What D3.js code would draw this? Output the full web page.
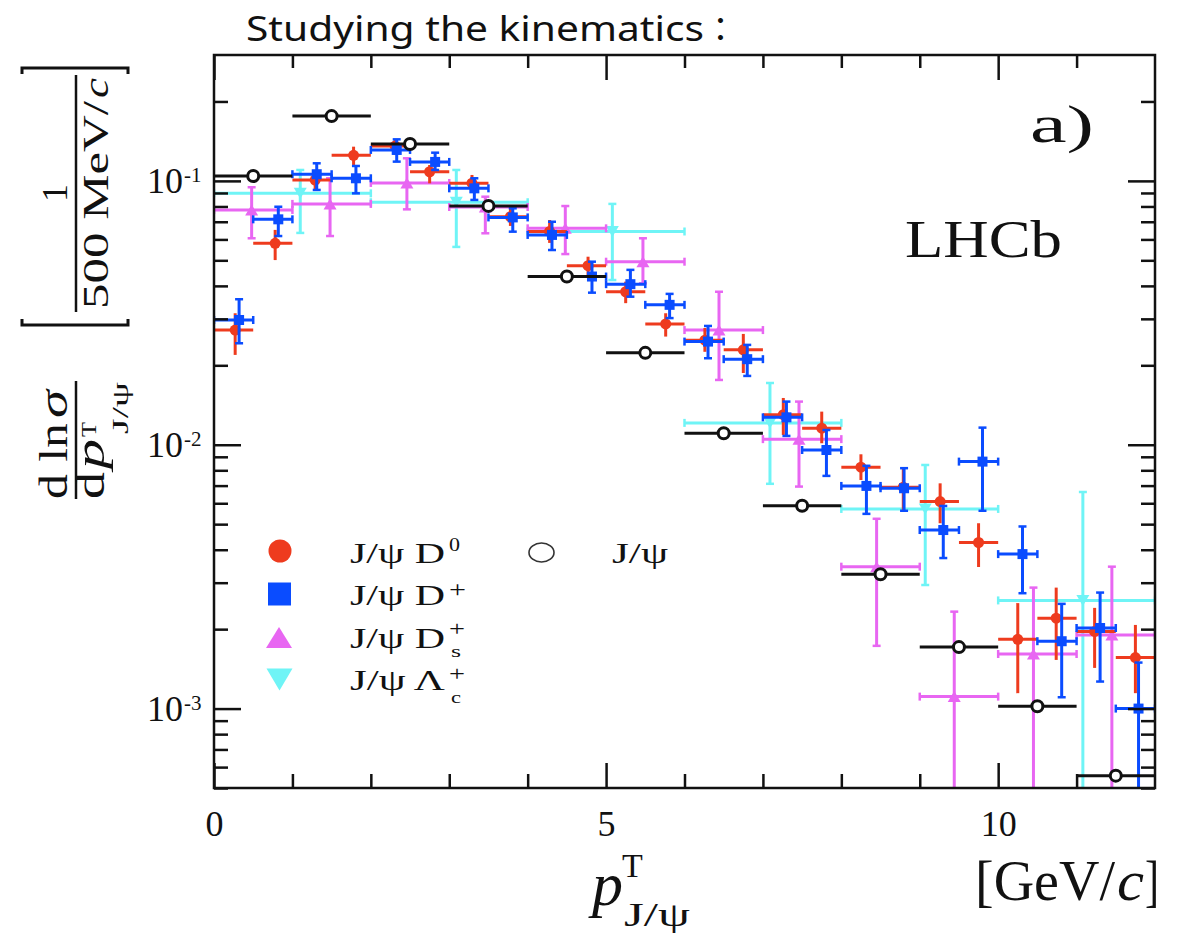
<!DOCTYPE html>
<html>
<head>
<meta charset="utf-8">
<script src="https://cdn.jsdelivr.net/npm/d3@7"></script>
<style>
  body { margin: 0; background: #fff; }
  svg { display: block; }
</style>
</head>
<body>
<svg id="chart" width="1180" height="940"></svg>
<script>
// ---- bin edges (GeV/c) ----
const halfEdges = [0,0.5,1,1.5,2,2.5,3,3.5,4,4.5,5,5.5,6,6.5,7,7.5,8,8.5,9,9.5,10,10.5,11,11.5,12];
const unitEdges = [0,1,2,3,4,5,6,7,8,9,10,11,12];
const twoEdges  = [0,2,4,6,8,10,12];

// ---- J/psi D0 ----
const d0X  = [0.27,0.78,1.29,1.78,2.31,2.75,3.29,3.78,4.28,4.77,5.25,5.76,6.26,6.75,7.26,7.75,8.25,8.79,9.26,9.75,10.25,10.74,11.23,11.75];
const d0Y  = [0.0272,0.058,0.1007,0.125,0.1355,0.1083,0.098,0.0732,0.0643,0.0477,0.038,0.0287,0.0249,0.0229,0.013,0.01155,0.00822,0.0069,0.00609,0.00426,0.00183,0.0022,0.00196,0.00156];
const d0Lo = [0.0219,0.0501,0.093,0.1149,0.1253,0.0979,0.091,0.0675,0.0582,0.0434,0.0344,0.0257,0.0225,0.0187,0.01089,0.01013,0.00735,0.00566,0.00504,0.00344,0.001144,0.001529,0.001426,0.001144];
const d0Hi = [0.0315,0.0652,0.109,0.1348,0.1437,0.1149,0.1053,0.079,0.0711,0.0516,0.0415,0.0315,0.0277,0.0263,0.01504,0.01335,0.0092,0.00816,0.00714,0.00504,0.00251,0.002874,0.002408,0.002075];

// ---- J/psi D+ ----
const dpX  = [0.32,0.82,1.31,1.81,2.33,2.82,3.32,3.81,4.31,4.82,5.31,5.81,6.3,6.8,7.3,7.81,8.32,8.8,9.3,9.8,10.31,10.81,11.3,11.79];
const dpY  = [0.0297,0.0715,0.106,0.1023,0.131,0.118,0.0937,0.0727,0.0624,0.0434,0.0406,0.0339,0.0246,0.0211,0.0127,0.00955,0.00698,0.00684,0.00475,0.00863,0.00385,0.0018,0.00202,0.001];
const dpLo = [0.02424,0.0618,0.0924,0.0897,0.1183,0.11,0.0847,0.0642,0.0547,0.0377,0.0364,0.0302,0.02127,0.01823,0.0108,0.00762,0.00547,0.00562,0.00372,0.00562,0.002737,0.001104,0.001266,0.0004];
const dpHi = [0.0356,0.0798,0.1166,0.1139,0.1437,0.1279,0.1023,0.0787,0.07,0.0494,0.046,0.0373,0.0282,0.0239,0.01457,0.01137,0.00832,0.00815,0.00586,0.01161,0.0049,0.002494,0.002752,0.001494];

// ---- J/psi Ds+ ----
const dsX  = [0.48,1.48,2.46,3.46,4.48,5.47,6.44,7.46,8.45,9.44,10.45,11.45];
const dsY  = [0.0776,0.0818,0.0982,0.0796,0.0661,0.0494,0.0272,0.0105,0.00345,0.00111,0.00161,0.0019];
const dsLo = [0.0606,0.0618,0.078,0.0633,0.0528,0.0409,0.0176,0.00694,0.001729,0.0003,0.0003,0.0003];
const dsHi = [0.0946,0.1023,0.1218,0.0871,0.0803,0.0606,0.038,0.01457,0.00524,0.00233,0.002874,0.00345];

// ---- J/psi Lambda_c+ ----
const lcX  = [1.1,3.09,5.08,7.09,9.07,11.08];
const lcY  = [0.0897,0.083,0.0643,0.0121,0.00571,0.00257];
const lcLo = [0.0635,0.0562,0.0421,0.00711,0.00294,0.0003];
const lcHi = [0.11,0.11,0.0818,0.01714,0.00838,0.00662];

// ---- inclusive J/psi ----
const psiX = [0.5,1.5,2.5,3.5,4.5,5.5,6.5,7.5,8.5,9.5,10.5,11.5];
const psiY = [0.1044,0.176,0.138,0.0804,0.0434,0.0223,0.01106,0.00587,0.00323,0.00171,0.00102,0.000557];

// ---- axes ----
const xMajor = [0,5,10];
const xMinor = [1,2,3,4,6,7,8,9,11];
const yMajor = [1e-3,1e-2,1e-1];
const yMajorExp = ["-3","-2","-1"];
const yMinor = [5e-4,6e-4,7e-4,8e-4,9e-4,2e-3,3e-3,4e-3,5e-3,6e-3,7e-3,8e-3,9e-3,2e-2,3e-2,4e-2,5e-2,6e-2,7e-2,8e-2,9e-2,2e-1];

const COL = { d0: "#ee3b1e", dp: "#0a4cff", ds: "#e866f2", lc: "#6ff4f6", psi: "#111" };
const SERIF = "'Liberation Serif','DejaVu Serif',serif";

const svg = d3.select("#chart");
const L = 214, R = 1155, T = 55, B = 788;
const x = d3.scaleLinear().domain([0, 12]).range([L, R]);
const y = d3.scaleLog().domain([5e-4, 0.3]).range([B, T]);

svg.append("defs").append("clipPath").attr("id", "plotclip")
  .append("rect").attr("x", L).attr("y", T).attr("width", R - L).attr("height", B - T);

const plot = svg.append("g").attr("clip-path", "url(#plotclip)");

function drawSeries(xs, ys, lo, hi, edges, color, marker, caps) {
  const g = plot.append("g");
  const cap = 4;
  xs.forEach((xv, i) => {
    const x0 = x(edges[i]), x1 = x(edges[i + 1]), yv = y(ys[i]);
    g.append("line").attr("x1", x0).attr("x2", x1).attr("y1", yv).attr("y2", yv)
      .attr("stroke", color).attr("stroke-width", 3);
    if (lo) {
      g.append("line").attr("x1", x(xv)).attr("x2", x(xv)).attr("y1", y(hi[i])).attr("y2", y(lo[i]))
        .attr("stroke", color).attr("stroke-width", 3);
    }
    if (caps) {
      [x0, x1].forEach(cx => g.append("line").attr("x1", cx).attr("x2", cx)
        .attr("y1", yv - cap).attr("y2", yv + cap).attr("stroke", color).attr("stroke-width", 2.5));
      [y(hi[i]), y(lo[i])].forEach(cy => g.append("line").attr("x1", x(xv) - cap).attr("x2", x(xv) + cap)
        .attr("y1", cy).attr("y2", cy).attr("stroke", color).attr("stroke-width", 2.5));
    }
    marker(g, x(xv), yv);
  });
}

const mCircle = (r, c) => (g, cx, cy) => g.append("circle").attr("cx", cx).attr("cy", cy).attr("r", r).attr("fill", c);
const mSquare = (s, c) => (g, cx, cy) => g.append("rect").attr("x", cx - s / 2).attr("y", cy - s / 2).attr("width", s).attr("height", s).attr("fill", c);
const mTri = (w, h, c, up) => (g, cx, cy) => g.append("path")
  .attr("d", up ? `M${cx - w / 2},${cy + h / 2}L${cx + w / 2},${cy + h / 2}L${cx},${cy - h / 2}Z`
                : `M${cx - w / 2},${cy - h / 2}L${cx + w / 2},${cy - h / 2}L${cx},${cy + h / 2}Z`)
  .attr("fill", c);
const mOpen = (g, cx, cy) => g.append("circle").attr("cx", cx).attr("cy", cy).attr("r", 5.5)
  .attr("fill", "#fff").attr("stroke", "#111").attr("stroke-width", 3);

drawSeries(lcX, lcY, lcLo, lcHi, twoEdges, COL.lc, mTri(13, 11, COL.lc, false), true);
drawSeries(dsX, dsY, dsLo, dsHi, unitEdges, COL.ds, mTri(13, 11, COL.ds, true), true);
drawSeries(d0X, d0Y, d0Lo, d0Hi, halfEdges, COL.d0, mCircle(5.5, COL.d0), false);
drawSeries(dpX, dpY, dpLo, dpHi, halfEdges, COL.dp, mSquare(10, COL.dp), true);
drawSeries(psiX, psiY, null, null, unitEdges, COL.psi, mOpen, false);

// ---- frame and ticks ----
function styleAxis(g) {
  g.select(".domain").remove();
  g.selectAll(".tick line").attr("stroke", "#111").attr("stroke-width", 2.5);
}
svg.append("g").attr("transform", `translate(0,${B})`)
  .call(d3.axisBottom(x).tickValues(xMajor).tickSizeInner(-25).tickSizeOuter(0).tickPadding(22).tickFormat(d3.format("d")))
  .call(styleAxis)
  .call(g => g.selectAll("text").attr("font-family", SERIF).attr("font-size", 36).attr("fill", "#111"));
svg.append("g").attr("transform", `translate(0,${B})`)
  .call(d3.axisBottom(x).tickValues(xMinor).tickSizeInner(-14).tickSizeOuter(0).tickFormat(""))
  .call(styleAxis);
svg.append("g").attr("transform", `translate(0,${T})`)
  .call(d3.axisTop(x).tickValues(xMajor).tickSizeInner(-25).tickSizeOuter(0).tickFormat(""))
  .call(styleAxis);
svg.append("g").attr("transform", `translate(0,${T})`)
  .call(d3.axisTop(x).tickValues(xMinor).tickSizeInner(-13).tickSizeOuter(0).tickFormat(""))
  .call(styleAxis);
[[L, d3.axisLeft], [R, d3.axisRight]].forEach(([px, ax]) => {
  svg.append("g").attr("transform", `translate(${px},0)`)
    .call(ax(y).tickValues(yMajor).tickSizeInner(-27).tickSizeOuter(0).tickFormat(""))
    .call(styleAxis);
  svg.append("g").attr("transform", `translate(${px},0)`)
    .call(ax(y).tickValues(yMinor).tickSizeInner(-14).tickSizeOuter(0).tickFormat(""))
    .call(styleAxis);
});
svg.append("rect").attr("x", L).attr("y", T).attr("width", R - L).attr("height", B - T)
  .attr("fill", "none").attr("stroke", "#111").attr("stroke-width", 2.5);

// y tick labels 10^n
yMajor.forEach((v, i) => {
  svg.append("text").attr("x", 183).attr("y", y(v) + 12).attr("text-anchor", "end")
    .attr("font-family", SERIF).attr("font-size", 36).attr("fill", "#111").text("10");
  svg.append("text").attr("x", 184).attr("y", y(v) + 1)
    .attr("font-family", SERIF).attr("font-size", 21).attr("fill", "#111").text(yMajorExp[i]);
});

// ---- text helper ----
function txt(parent, tx, ty, s, size, o = {}) {
  const t = parent.append("text").attr("x", tx).attr("y", ty)
    .attr("font-family", o.family || SERIF).attr("font-size", size).attr("fill", "#111")
    .attr("text-anchor", o.anchor || "start").text(s);
  if (o.italic) t.attr("font-style", "italic");
  if (o.len) t.attr("textLength", o.len).attr("lengthAdjust", "spacingAndGlyphs");
  return t;
}

// title
txt(svg, 246, 41, "Studying the kinematics", 35, { family: "'Noto Sans','Open Sans',sans-serif", len: 458 });
txt(svg, 704, 41, "：", 33, { family: "'Noto Sans CJK JP',sans-serif" });

// labels inside the frame
txt(svg, 1030, 142, "a)", 52, { len: 64 });
txt(svg, 905, 257, "LHCb", 52, { len: 157 });

// x axis title
txt(svg, 592, 905, "p", 62, { italic: true });
txt(svg, 622, 877, "T", 34);
txt(svg, 624, 926, "J/ψ", 34, { len: 66 });
txt(svg, 975, 900, "[GeV/", 56, { len: 140 });
txt(svg, 1117, 900, "c", 56, { italic: true, len: 27 });
txt(svg, 1145, 900, "]", 56, { len: 14 });

// y axis title, drawn in a rotated frame: (lx, ly) = (-screenY, screenX)
const yt = svg.append("g").attr("transform", "rotate(-90)");
// d ln sigma / d p^T_{J/psi}
txt(yt, -499, 67, "d ln", 40, { len: 76 });
txt(yt, -418, 67, "σ", 40, { italic: true, len: 28 });
yt.append("line").attr("x1", -499).attr("x2", -381).attr("y1", 76).attr("y2", 76).attr("stroke", "#111").attr("stroke-width", 2.5);
txt(yt, -499, 104, "d", 40, { len: 27 });
txt(yt, -469, 104, "p", 40, { italic: true, len: 30 });
txt(yt, -437, 96, "T", 22, { len: 15 });
txt(yt, -434, 128, "J/ψ", 24, { len: 52 });
// [ 1 / 500 MeV/c ]
txt(yt, -193, 67, "1", 36, { anchor: "middle" });
yt.append("line").attr("x1", -312).attr("x2", -75).attr("y1", 76).attr("y2", 76).attr("stroke", "#111").attr("stroke-width", 2.5);
txt(yt, -309, 108, "500 MeV/", 36, { len: 208 });
txt(yt, -98, 108, "c", 36, { italic: true, len: 20 });
svg.append("path").attr("d", "M22,74L22,68L128,68L128,74").attr("fill", "none").attr("stroke", "#111").attr("stroke-width", 3);
svg.append("path").attr("d", "M22,319L22,325L128,325L128,319").attr("fill", "none").attr("stroke", "#111").attr("stroke-width", 3);

// ---- legend ----
const lg = svg.append("g");
mCircle(11.5, COL.d0)(lg, 280, 551);
mSquare(23, COL.dp)(lg, 279.5, 594);
mTri(26, 21, COL.ds, true)(lg, 279, 637.5);
mTri(26, 22, COL.lc, false)(lg, 279.5, 679.5);
lg.append("ellipse").attr("cx", 541.5).attr("cy", 552.5).attr("rx", 12.5).attr("ry", 9.5)
  .attr("fill", "none").attr("stroke", "#333").attr("stroke-width", 1.6);

txt(lg, 350, 563, "J/ψ D", 29, { len: 95 });
txt(lg, 449, 551, "0", 19, { len: 11 });
txt(lg, 350, 605, "J/ψ D", 29, { len: 95 });
txt(lg, 449, 597, "+", 24, { len: 17 });
txt(lg, 350, 648, "J/ψ D", 29, { len: 95 });
txt(lg, 449, 636, "+", 22, { len: 16 });
txt(lg, 451, 657, "s", 16, { len: 10 });
txt(lg, 350, 690, "J/ψ Λ", 29, { len: 95 });
txt(lg, 449, 681, "+", 22, { len: 16 });
txt(lg, 451, 703, "c", 16, { len: 10 });
txt(lg, 612, 563, "J/ψ", 29, { len: 56 });
</script>
</body>
</html>
